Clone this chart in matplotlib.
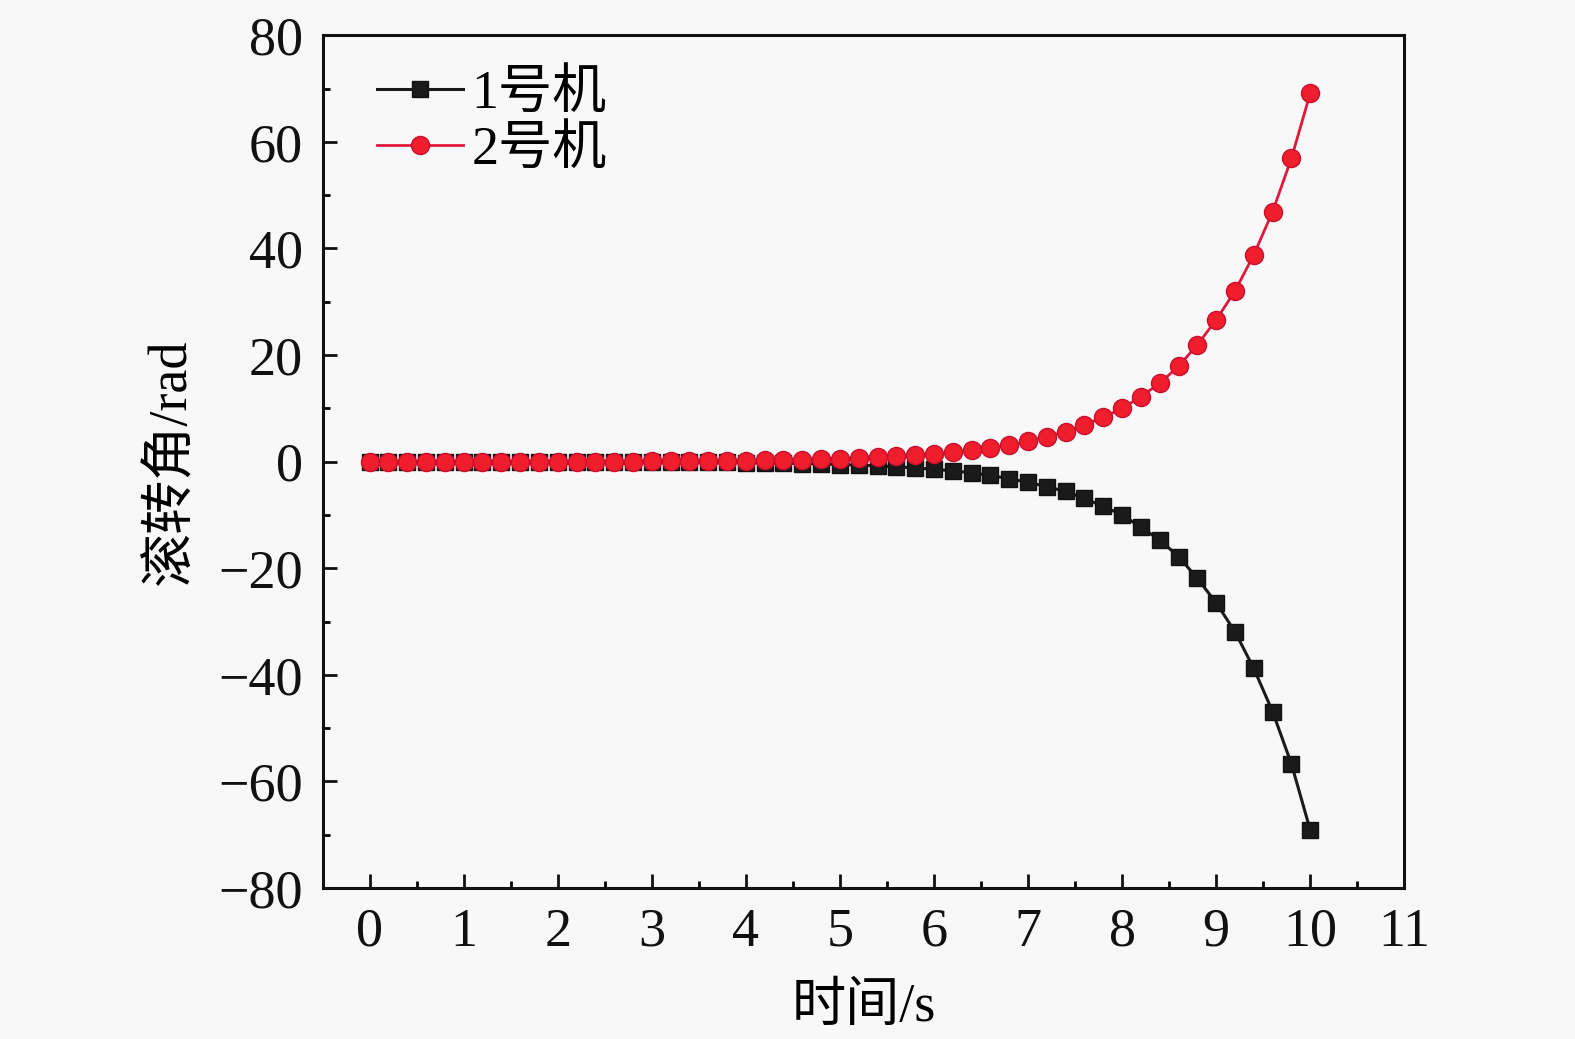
import matplotlib
matplotlib.use("Agg")
import matplotlib.pyplot as plt
from matplotlib.ticker import MultipleLocator

plt.rcParams['font.family'] = ['Liberation Serif', 'Noto Sans CJK SC', 'DejaVu Sans']
plt.rcParams['axes.unicode_minus'] = True

t = [0.0, 0.2, 0.4, 0.6, 0.8, 1.0, 1.2, 1.4, 1.6, 1.8,
     2.0, 2.2, 2.4, 2.6, 2.8, 3.0, 3.2, 3.4, 3.6, 3.8,
     4.0, 4.2, 4.4, 4.6, 4.8, 5.0, 5.2, 5.4, 5.6, 5.8,
     6.0, 6.2, 6.4, 6.6, 6.8, 7.0, 7.2, 7.4, 7.6, 7.8,
     8.0, 8.2, 8.4, 8.6, 8.8, 9.0, 9.2, 9.4, 9.6, 9.8, 10.0]

plane1 = [-0.001, -0.001, -0.002, -0.002, -0.003, -0.003, -0.004, -0.005, -0.006, -0.008,
          -0.01, -0.012, -0.015, -0.018, -0.022, -0.027, -0.033, -0.04, -0.05, -0.06,
          -0.2, -0.24, -0.29, -0.36, -0.44, -0.54, -0.66, -0.8, -0.97, -1.18,
          -1.43, -1.74, -2.1, -2.6, -3.2, -3.9, -4.7, -5.6, -6.9, -8.4,
          -10.0, -12.3, -14.7, -17.8, -21.9, -26.5, -31.9, -38.8, -46.9, -56.7, -69.1]

plane2 = [0.001, 0.001, 0.002, 0.002, 0.003, 0.003, 0.004, 0.005, 0.006, 0.008,
          0.01, 0.012, 0.015, 0.018, 0.022, 0.027, 0.033, 0.04, 0.05, 0.06,
          0.2, 0.24, 0.29, 0.36, 0.44, 0.54, 0.66, 0.8, 0.97, 1.18,
          1.43, 1.74, 2.1, 2.55, 3.1, 3.8, 4.7, 5.6, 6.9, 8.3,
          10.0, 12.2, 14.7, 17.9, 21.9, 26.6, 32.0, 38.8, 46.9, 56.9, 69.1]

bg = '#f8f8f8'
fig = plt.figure(figsize=(15.75, 10.39), dpi=100, facecolor=bg)
ax = fig.add_axes([0.2048, 0.1453, 0.6868, 0.8208], facecolor=bg)

ax.plot(t, plane1, color='#1a1a1a', lw=2.2, marker='s', markersize=11,
        markerfacecolor='#1a1a1a', markeredgecolor='#111111', label='1号机', zorder=3)
ax.plot(t, plane2, color='#e0183c', lw=2.0, marker='o', markersize=13,
        markerfacecolor='#f01d2c', markeredgecolor='#c8102e', label='2号机', zorder=4)

ax.set_xlim(-0.5, 11)
ax.set_ylim(-80, 80)
ax.xaxis.set_major_locator(MultipleLocator(1))
ax.xaxis.set_minor_locator(MultipleLocator(0.5))
ax.yaxis.set_major_locator(MultipleLocator(20))
ax.yaxis.set_minor_locator(MultipleLocator(10))
ax.tick_params(which='major', direction='in', length=10, width=2, labelsize=39, pad=14, colors='#111111')
ax.tick_params(which='minor', direction='in', length=5, width=2)
for s in ax.spines.values():
    s.set_linewidth(2.2)
    s.set_color('#111111')

ax.set_xlabel('时间/s', fontsize=39, labelpad=18)
ax.set_ylabel('滚转角/rad', fontsize=39, labelpad=15)

leg = ax.legend(loc='upper left', frameon=False, fontsize=39, handlelength=1.6,
                handletextpad=0.15, labelspacing=0.1, borderaxespad=0.0,
                bbox_to_anchor=(0.03, 0.985))

fig.savefig('out.png', dpi=100, facecolor=bg)
